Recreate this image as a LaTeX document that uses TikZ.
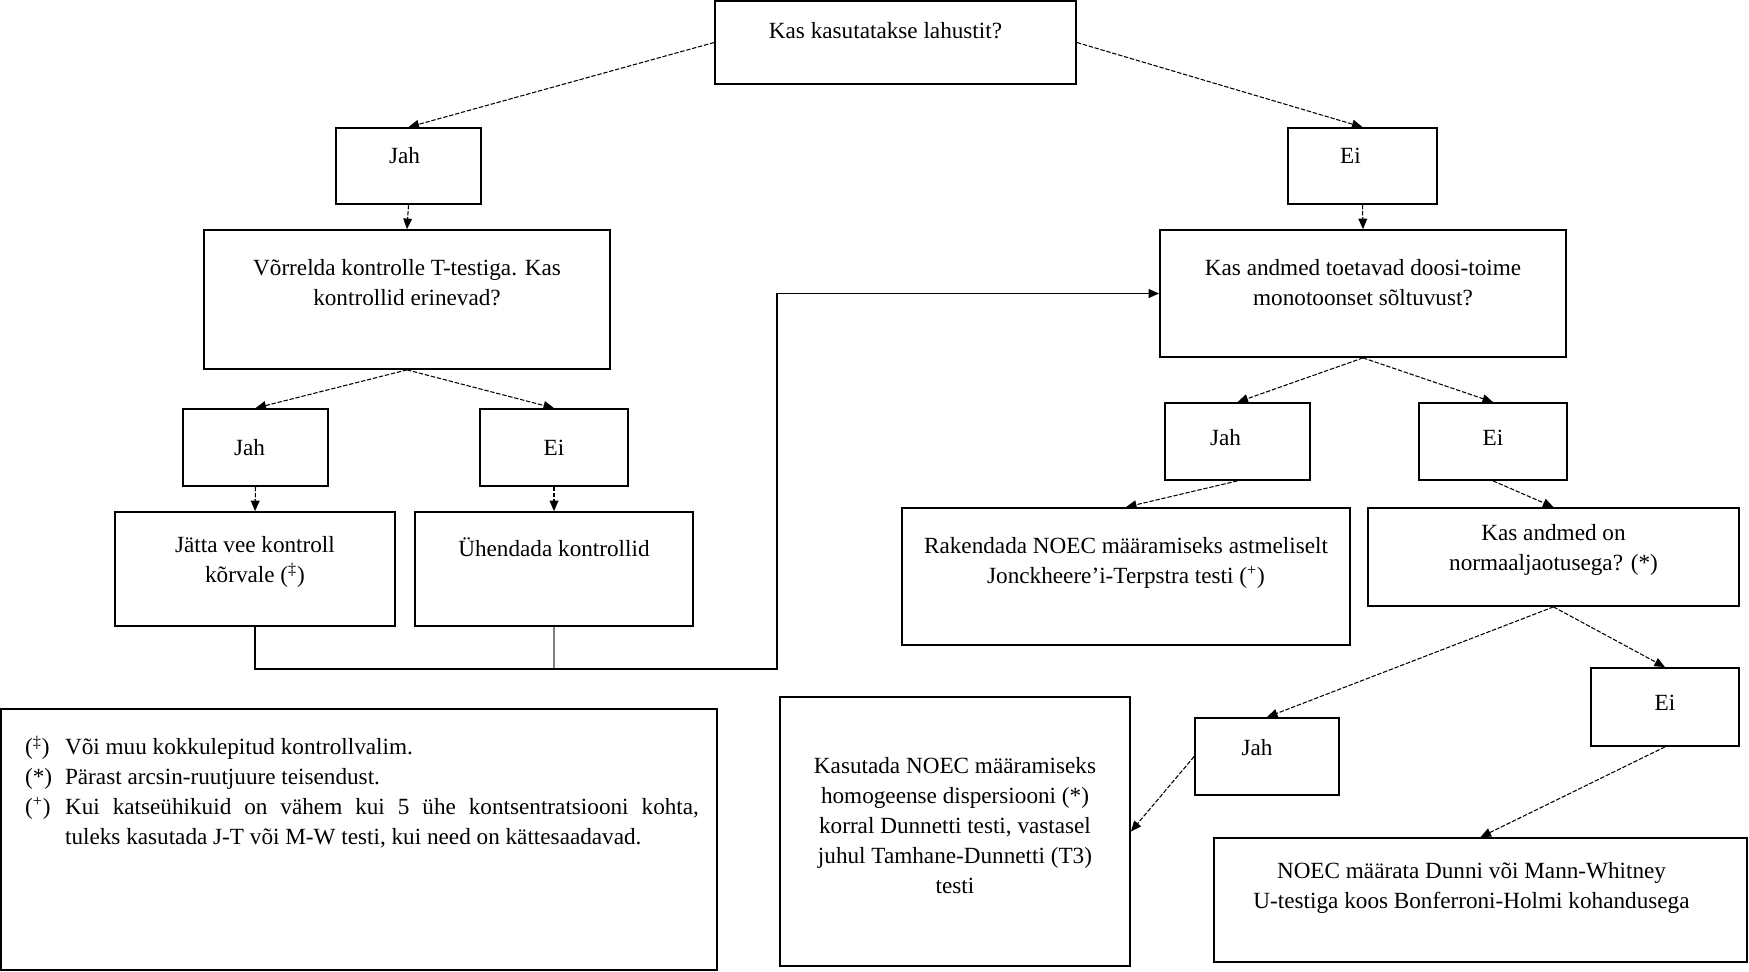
\documentclass[tikz,border=0pt]{standalone}
\usepackage{fontspec}
\setmainfont{Liberation Serif}
\usetikzlibrary{positioning}
\usetikzlibrary{fit}
\usetikzlibrary{arrows.meta}

\tikzset{
  box/.style={draw, line width=1pt, inner sep=0pt},
  txt/.style={font=\fontsize{13.2}{17}\selectfont, align=center, inner sep=0pt},
  flow/.style={dash pattern=on 2.5pt off 1pt, line width=0.6pt, -{Triangle[length=6pt,width=5pt]}},
  link/.style={line width=1pt},
}

\begin{document}
\begin{tikzpicture}[x=0.02cm, y=-0.02cm]
    \useasboundingbox (0,0) rectangle (1749,971);
    % first question
    \node[box, fit={(715,1) (1076,84)}, label={[txt, xshift=-0.2cm, yshift=0.24cm]center:Kas kasutatakse lahustit?}] (q1) {};
    \node[box, fit={(336,128) (481,204)}, label={[txt, xshift=-0.08cm, yshift=0.2cm]center:Jah}] (j1) {};
    \node[box, fit={(1288,128) (1437,204)}, label={[txt, xshift=-0.24cm, yshift=0.2cm]center:Ei}] (e1) {};
    % left branch
    \node[box, fit={(204,230) (610,369)}, label={[txt, yshift=0.34cm]center:{V\~orrelda kontrolle T-testiga. Kas\\kontrollid erinevad?}}] (q2) {};
    \node[box, fit={(183,409) (328,486)}, label={[txt, xshift=-0.12cm]center:Jah}] (j2) {};
    \node[box, fit={(480,409) (628,486)}, label={[txt]center:Ei}] (e2) {};
    \node[box, fit={(115,512) (395,626)}, label={[txt, yshift=0.14cm]center:{Jätta vee kontroll\\kõrvale (\textsuperscript{‡})}}] (a1) {};
    \node[box, fit={(415,512) (693,626)}, label={[txt, yshift=0.44cm]center:Ühendada kontrollid}] (a2) {};
    % right branch
    \node[box, fit={(1160,230) (1566,357)}, label={[txt, yshift=0.22cm]center:{Kas andmed toetavad doosi-toime\\monotoonset sõltuvust?}}] (q3) {};
    \node[box, fit={(1165,403) (1310,480)}, label={[txt, xshift=-0.24cm, yshift=0.08cm]center:Jah}] (j3) {};
    \node[box, fit={(1419,403) (1567,480)}, label={[txt, yshift=0.08cm]center:Ei}] (e3) {};
    \node[box, fit={(902,508) (1350,645)}, label={[txt, yshift=0.28cm]center:{Rakendada NOEC määramiseks astmeliselt\\Jonckheere’i-Terpstra testi (\textsuperscript{+})}}] (a3) {};
    \node[box, fit={(1368,508) (1739,606)}, label={[txt, yshift=0.14cm]center:{Kas andmed on\\normaaljaotusega? (*)}}] (q4) {};
    \node[box, fit={(1195,718) (1339,795)}, label={[txt, xshift=-0.2cm, yshift=0.18cm]center:Jah}] (j4) {};
    \node[box, fit={(1591,668) (1739,746)}, label={[txt, yshift=0.08cm]center:Ei}] (e4) {};
    \node[box, fit={(780,697) (1130,966)}, label={[txt, yshift=0.12cm]center:{Kasutada NOEC määramiseks\\homogeense dispersiooni (*)\\korral Dunnetti testi, vastasel\\juhul Tamhane-Dunnetti (T3)\\testi}}] (a4) {};
    \node[box, fit={(1214,838) (1747,962)}, label={[txt, xshift=-0.18cm, yshift=0.24cm]center:{NOEC määrata Dunni või Mann-Whitney\\U-testiga koos Bonferroni-Holmi kohandusega}}] (a5) {};
    % footnotes
    \node[box, fit={(1,709) (717,970)}, label={[txt, xshift=0.06cm, yshift=0.92cm]center:{%
      \begin{tabular}{@{}p{0.8cm}@{}p{12.68cm}@{}}
      (\textsuperscript{‡}) & Või muu kokkulepitud kontrollvalim.\\
      (*) & Pärast arcsin-ruutjuure teisendust.\\
      (\textsuperscript{+}) & Kui katseühikuid on vähem kui 5 ühe kontsentratsiooni kohta,\linebreak tuleks kasutada J-T või M-W testi, kui need on kättesaadavad.
      \end{tabular}}}] (notes) {};

    \draw[flow] (q1.west) -- (j1.north);
    \draw[flow] (q1.east) -- (e1.north);
    \draw[flow] (j1.south) -- (q2.north);
    \draw[flow] (e1.south) -- (q3.north);
    \draw[flow] (q2.south) -- (j2.north);
    \draw[flow] (q2.south) -- (e2.north);
    \draw[flow] (j2.south) -- (a1.north);
    \draw[flow] (e2.south) -- (a2.north);
    \coordinate (joint) at (777,669);
    \draw[link, gray] (a2.south) -- (a2.south |- joint);
    \draw[link, -{Triangle[length=6pt,width=5pt]}] (a1.south) |- (joint) |- (q3.west);
    \draw[flow] (q3.south) -- (j3.north);
    \draw[flow] (q3.south) -- (e3.north);
    \draw[flow] (j3.south) -- (a3.north);
    \draw[flow] (e3.south) -- (q4.north);
    \draw[flow] (q4.south) -- (j4.north);
    \draw[flow] (q4.south) -- (e4.north);
    \draw[flow] (j4.west) -- (a4.east);
    \draw[flow] (e4.south) -- (a5.north);
\end{tikzpicture}
\end{document}
